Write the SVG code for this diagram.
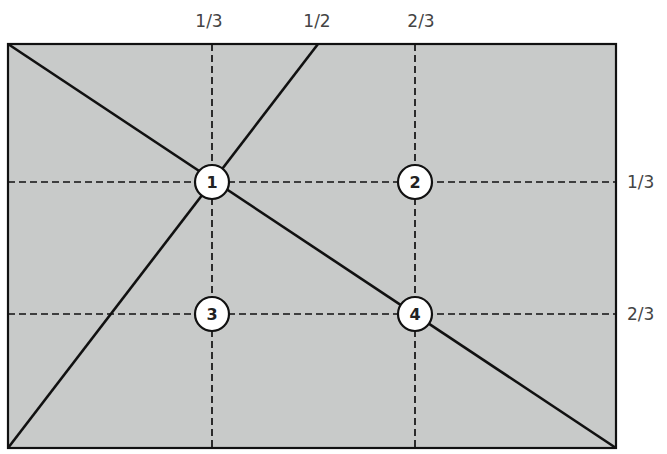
<svg xmlns="http://www.w3.org/2000/svg" width="667" height="454" viewBox="0 0 667 454">
<style>
.dash{stroke:#111;stroke-width:1.7;stroke-dasharray:7 4;fill:none}
.solid{stroke:#111;stroke-width:2.6;fill:none}
.lbl{font-family:"DejaVu Sans",sans-serif;font-size:17px;fill:#444}
.node circle{fill:#fff;stroke:#111;stroke-width:2.2}
.node text{font-family:"DejaVu Sans",sans-serif;font-size:16px;font-weight:bold;fill:#222;text-anchor:middle}
</style>
<rect x="0" y="0" width="667" height="454" fill="#fff"/>
<rect x="8" y="44" width="608" height="404" fill="#c8cac9" stroke="#111" stroke-width="2.2"/>
<g id="connectors">
<line class="dash" x1="212" y1="44" x2="212" y2="448"/>
<line class="dash" x1="415" y1="44" x2="415" y2="448"/>
<line class="dash" x1="8" y1="182" x2="616" y2="182"/>
<line class="dash" x1="8" y1="314" x2="616" y2="314"/>
<line class="solid" x1="8" y1="44" x2="616" y2="448"/>
<line class="solid" x1="8" y1="448" x2="318" y2="44"/>
</g>
<g id="labels">
<text class="lbl" x="209" y="27" text-anchor="middle">1/3</text>
<text class="lbl" x="317" y="27" text-anchor="middle">1/2</text>
<text class="lbl" x="421" y="27" text-anchor="middle">2/3</text>
<text class="lbl" x="627" y="188">1/3</text>
<text class="lbl" x="627" y="320">2/3</text>
</g>
<g id="node1" class="node"><circle cx="212" cy="182" r="17"/><text x="212" y="188">1</text></g>
<g id="node2" class="node"><circle cx="415" cy="182" r="17"/><text x="415" y="188">2</text></g>
<g id="node3" class="node"><circle cx="212" cy="314" r="17"/><text x="212" y="320">3</text></g>
<g id="node4" class="node"><circle cx="415" cy="314" r="17"/><text x="415" y="320">4</text></g>
</svg>
